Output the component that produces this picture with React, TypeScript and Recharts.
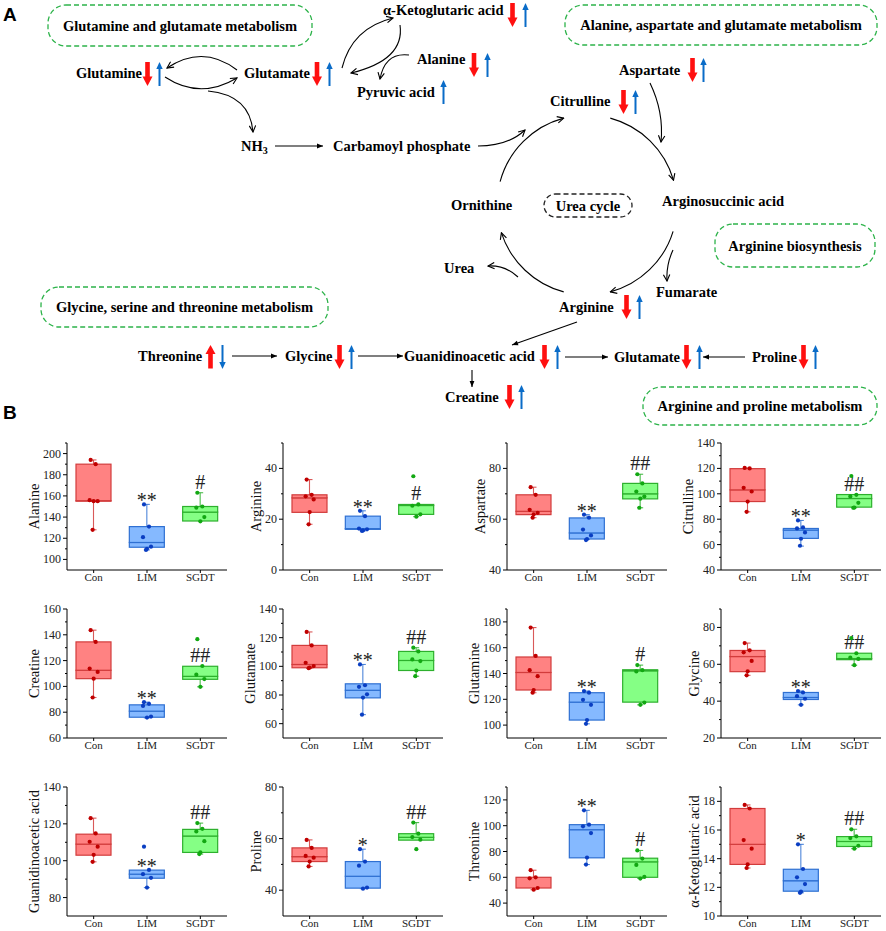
import React from "react";
import { ComposedChart, Bar, Scatter, XAxis, YAxis } from "recharts";

const SERIF = "'Liberation Serif', 'Times New Roman', serif";
const SANS = "'Liberation Sans', Arial, sans-serif";

const GROUPS = ["Con", "LIM", "SGDT"];
const FILL = ["#FF8282", "#85B9FF", "#85FF85"];
const EDGE = ["#D23C3C", "#2F70D2", "#2DB02D"];
const DOT = ["#C00000", "#0A3EC2", "#12A812"];

// box stats per group: [whisker low, Q1, median, Q3, whisker high]
const alanineBox = [[128, 155, 155.5, 190, 194], [109, 111.5, 116, 131, 152], [136, 136.3, 144.7, 150, 163]];
const alaninePts = [[194, 190, 156, 155, 155, 128], [152, 131, 121, 112, 110, 109], [163, 150, 149, 140, 136]];
const alanineSig = ["", "**", "#"];

const arginineBox = [[18, 22.7, 28.4, 29.6, 35.6], [15.4, 16, 16.3, 21.2, 23.3], [21, 21.9, 25.4, 25.8, 25.8]];
const argininePts = [[35.6, 29.6, 29, 27.8, 22.8, 18], [23.3, 21.2, 16.3, 16, 15.6, 15.4], [36.9, 25.8, 25.3, 21.9, 21]];
const arginineSig = ["", "**", "#"];

const aspartateBox = [[60.6, 61.8, 63.1, 69.6, 72.6], [52, 52.2, 54.6, 60.5, 61.8], [64.5, 68, 70, 74.1, 77.7]];
const aspartatePts = [[72.6, 69.6, 63.7, 62.5, 61.9, 60.6], [61.8, 60.6, 55.9, 53.6, 52.2, 51.8], [77.7, 74.1, 70.9, 68.9, 68.1, 64.5]];
const aspartateSig = ["", "**", "##"];

const citrullineBox = [[85.8, 93.9, 103.1, 119.8, 120.4], [58.8, 64.9, 71.4, 72.7, 79], [89, 89.5, 96.3, 99.4, 99.4]];
const citrullinePts = [[120.4, 120, 104.7, 101.8, 93.9, 85.8], [79, 73.5, 72.7, 69.6, 64.6, 59.1], [114, 99.2, 97.9, 92.9, 89.2, 89]];
const citrullineSig = ["", "**", "##"];

const creatineBox = [[91.4, 106, 112.5, 134.5, 143.6], [75.6, 76.1, 80.8, 85.7, 87.8], [99.7, 105.5, 107.8, 115.6, 115.6]];
const creatinePts = [[143.6, 134.5, 113.8, 111.2, 106, 91.4], [87.8, 86.5, 84.9, 76.6, 75.8], [136.6, 115.8, 109.1, 105.7, 99.7]];
const creatineSig = ["", "**", "##"];

const glutamateBox = [[98.5, 99, 101.3, 114.6, 124], [66.3, 78, 83.3, 87.8, 101.3], [93.1, 97.1, 104.1, 110.4, 113]];
const glutamatePts = [[124, 114.6, 102.5, 100.2, 99.2, 98.7], [101.3, 86.8, 85.7, 80.5, 78.2, 66.3], [113, 110.4, 104.8, 103.7, 97.1, 93.1]];
const glutamateSig = ["", "**", "##"];

const glutamineBox = [[125.1, 127.2, 140.8, 152.8, 175.6], [101, 103.9, 117.8, 125.1, 126.4], [115.7, 117.8, 142.1, 142.9, 146.5]];
const glutaminePts = [[175.6, 153.6, 142.6, 137.9, 127.2, 125.1], [126.4, 125.1, 119.6, 115.7, 103.9, 101], [146.5, 142.6, 141.6, 117.5, 115.7]];
const glutamineSig = ["", "**", "#"];

const glycineBox = [[54, 56, 64.2, 67.5, 71.5], [38, 40.9, 42, 44.7, 45.5], [59.5, 62.5, 63.1, 66, 66]];
const glycinePts = [[71.5, 67.6, 66.5, 61.8, 56.2, 54], [45.5, 44.7, 42.7, 41.3, 38], [74.2, 66, 63.6, 62.9, 59.5]];
const glycineSig = ["", "**", "##"];

const guanidinoBox = [[99.4, 103, 109, 114.4, 123.1], [85.4, 90.5, 92.7, 94.9, 94.9], [103.6, 104.5, 113.4, 117, 120.4]];
const guanidinoPts = [[123.1, 114.8, 110.3, 107.6, 103.2, 99.4], [107.6, 95, 92.7, 90.7, 85.4], [120.4, 117.3, 115.9, 110.6, 104.5, 103.6]];
const guanidinoSig = ["", "**", "##"];

const prolineBox = [[49.2, 51.1, 53, 56.4, 59.5], [40.6, 40.8, 45.4, 51.1, 55.9], [59.4, 59.4, 60.5, 61.9, 66.2]];
const prolinePts = [[59.5, 56.4, 53.3, 52.6, 51.1, 49.2], [55.9, 51.1, 49.5, 41, 40.6], [66.2, 61.9, 60.6, 59.6, 55.9]];
const prolineSig = ["", "*", "##"];

const threonineBox = [[50.4, 51.7, 60, 60, 65.5], [69.9, 75.1, 96.9, 100.8, 111.9], [59.2, 60, 72, 74.8, 80.8]];
const threoninePts = [[65.5, 60, 59.2, 51.7, 50.4], [111.9, 100.8, 99.5, 94.3, 75.3, 69.9], [80.8, 74.5, 69.6, 60.3, 59]];
const threonineSig = ["", "**", "#"];

const ketoBox = [[13.35, 13.6, 15, 17.5, 17.75], [11.62, 11.73, 12.46, 13.26, 15], [14.7, 14.85, 15.2, 15.54, 16.05]];
const ketoPts = [[17.75, 17.5, 15.3, 14.7, 13.6, 13.35], [15, 13.28, 12.7, 12.23, 11.7, 11.62], [16.05, 15.56, 15.44, 14.9, 14.7]];
const ketoSig = ["", "*", "##"];

const PANELS = [
  { name: "Alanine", box: alanineBox, pts: alaninePts, sig: alanineSig, domain: [90, 210], majors: [100, 120, 140, 160, 180, 200] },
  { name: "Arginine", box: arginineBox, pts: argininePts, sig: arginineSig, domain: [0, 50], majors: [0, 20, 40] },
  { name: "Aspartate", box: aspartateBox, pts: aspartatePts, sig: aspartateSig, domain: [40, 90], majors: [40, 60, 80] },
  { name: "Citrulline", box: citrullineBox, pts: citrullinePts, sig: citrullineSig, domain: [40, 140], majors: [40, 60, 80, 100, 120, 140] },
  { name: "Creatine", box: creatineBox, pts: creatinePts, sig: creatineSig, domain: [60, 160], majors: [60, 80, 100, 120, 140, 160] },
  { name: "Glutamate", box: glutamateBox, pts: glutamatePts, sig: glutamateSig, domain: [50, 140], majors: [60, 80, 100, 120, 140] },
  { name: "Glutamine", box: glutamineBox, pts: glutaminePts, sig: glutamineSig, domain: [90, 190], majors: [100, 120, 140, 160, 180] },
  { name: "Glycine", box: glycineBox, pts: glycinePts, sig: glycineSig, domain: [20, 90], majors: [20, 40, 60, 80] },
  { name: "Guanidinoacetic acid", box: guanidinoBox, pts: guanidinoPts, sig: guanidinoSig, domain: [70, 140], majors: [80, 100, 120, 140] },
  { name: "Proline", box: prolineBox, pts: prolinePts, sig: prolineSig, domain: [30, 80], majors: [40, 60, 80] },
  { name: "Threonine", box: threonineBox, pts: threoninePts, sig: threonineSig, domain: [30, 130], majors: [40, 60, 80, 100, 120] },
  { name: "α-Ketoglutaric acid", box: ketoBox, pts: ketoPts, sig: ketoSig, domain: [10, 19], majors: [10, 12, 14, 16, 18] },
];

const COL_X = [67, 283, 507, 721];
const ROW_TOP = [443, 609, 787];
const ROW_H = [127, 129, 129];
const PLOT_W = 160;
const AXIS_W = 60;
const TOP_PAD = 10;
const JIT = [-3, 2, -4, 4, 0, -1];

function minorTicks(domain: number[], majors: number[]) {
  const s = majors[1] - majors[0];
  const out: number[] = [];
  const first = majors[0] - s / 2;
  if (first > domain[0]) out.push(first);
  majors.forEach((m) => {
    if (m + s / 2 <= domain[1] + 1e-9) out.push(m + s / 2);
  });
  return out;
}

function YTick(props: any) {
  const { x, y, payload, majors } = props;
  const major = majors.includes(payload.value);
  return (
    <g>
      <line x1={major ? x + 2 : x + 4} x2={x + 6} y1={y} y2={y} stroke="#000" strokeWidth={1} />
      {major && (
        <text x={x} y={y} textAnchor="end" dominantBaseline="central" fontSize={12} fill="#222" fontFamily={SERIF}>
          {payload.value}
        </text>
      )}
    </g>
  );
}

const Nothing = () => <g />;

function WhiskerLow(p: any) {
  const cx = p.x + p.width / 2;
  const c = EDGE[p.payload.gi];
  if (!(p.height > 0.5)) return <g />;
  return (
    <g stroke={c} strokeOpacity={0.85} strokeWidth={1.1}>
      <line x1={cx} x2={cx} y1={p.y} y2={p.y + p.height} />
      <line x1={cx - 3} x2={cx + 3} y1={p.y + p.height} y2={p.y + p.height} />
    </g>
  );
}

function WhiskerHigh(p: any) {
  const cx = p.x + p.width / 2;
  const c = EDGE[p.payload.gi];
  const sig = p.payload.sig;
  const star = sig.startsWith("*");
  return (
    <g>
      {p.height > 0.5 && (
        <g stroke={c} strokeOpacity={0.85} strokeWidth={1.1}>
          <line x1={cx} x2={cx} y1={p.y} y2={p.y + p.height} />
          <line x1={cx - 3} x2={cx + 3} y1={p.y} y2={p.y} />
        </g>
      )}
      {sig && (
        <text x={cx} y={star ? p.y + 3 : p.y - 4} textAnchor="middle" fontSize={20} fill="#222" fontFamily={SERIF}>
          {sig}
        </text>
      )}
    </g>
  );
}

function BoxPart(p: any) {
  const i = p.payload.gi;
  return <rect x={p.x} y={p.y} width={p.width} height={Math.max(p.height, 0)} fill={FILL[i]} stroke={EDGE[i]} strokeWidth={1.2} />;
}

function Dot(p: any) {
  const i = p.payload.gi;
  return <circle cx={p.cx + JIT[p.payload.k % JIT.length]} cy={p.cy} r={2.1} fill={DOT[i]} />;
}

function BoxPanel({ panel, left, top, height }: any) {
  const rows = GROUPS.map((g, i) => {
    const [lo, q1, md, q3, hi] = panel.box[i];
    return { g, gi: i, sig: panel.sig[i], base: lo, wLow: q1 - lo, bLow: md - q1, bHigh: q3 - md, wHigh: hi - q3 };
  });
  const pts: any[] = [];
  GROUPS.forEach((g, i) => panel.pts[i].forEach((v: number, k: number) => pts.push({ g, gi: i, k, v })));
  const minors = minorTicks(panel.domain, panel.majors);
  const ticks = [...panel.majors, ...minors].sort((a, b) => a - b);
  const digits = Math.max(...panel.majors.map((m: number) => String(m).length));
  const d = digits >= 3 ? 33 : 27;
  return (
    <div style={{ position: "absolute", left: left - AXIS_W, top: top - TOP_PAD }}>
      <ComposedChart
        width={AXIS_W + PLOT_W + 5}
        height={height + TOP_PAD + 25}
        data={rows}
        margin={{ top: TOP_PAD, right: 5, bottom: 0, left: 0 }}
        barSize={35}
        style={{ fontFamily: SERIF }}
      >
        <XAxis
          dataKey="g"
          type="category"
          allowDuplicatedCategory={false}
          height={25}
          tickSize={3}
          tickMargin={0}
          stroke="#000"
          tick={{ fontSize: 11, fill: "#222", fontFamily: SERIF }}
          interval={0}
        />
        <YAxis
          type="number"
          width={AXIS_W}
          domain={panel.domain}
          allowDataOverflow
          ticks={ticks}
          interval={0}
          tickSize={4}
          tickMargin={2}
          tickLine={false}
          stroke="#000"
          tick={<YTick majors={panel.majors} />}
          label={{ value: panel.name, angle: -90, position: "center", dx: AXIS_W / 2 - d, fontSize: 14.5, fill: "#111", fontFamily: SERIF }}
        />
        <Bar dataKey="base" stackId="s" shape={<Nothing />} isAnimationActive={false} />
        <Bar dataKey="wLow" stackId="s" shape={<WhiskerLow />} isAnimationActive={false} />
        <Bar dataKey="bLow" stackId="s" shape={<BoxPart />} isAnimationActive={false} />
        <Bar dataKey="bHigh" stackId="s" shape={<BoxPart />} isAnimationActive={false} />
        <Bar dataKey="wHigh" stackId="s" shape={<WhiskerHigh />} isAnimationActive={false} />
        <Scatter data={pts} dataKey="v" shape={<Dot />} isAnimationActive={false} />
      </ComposedChart>
    </div>
  );
}

const GREEN = "#2DB34A";
const RED = "#FF1010";
const BLUE = "#0A6CC8";

function Red({ cx, top, up }: any) {
  if (up)
    return (
      <g fill={RED}>
        <polygon points={`${cx},${top} ${cx - 5},${top + 9} ${cx + 5},${top + 9}`} />
        <rect x={cx - 2.3} y={top + 8.5} width={4.6} height={15} />
      </g>
    );
  return (
    <g fill={RED}>
      <rect x={cx - 2.3} y={top} width={4.6} height={15} />
      <polygon points={`${cx - 5},${top + 14.5} ${cx + 5},${top + 14.5} ${cx},${top + 24}`} />
    </g>
  );
}

function Blue({ cx, top, down }: any) {
  if (down)
    return (
      <g fill={BLUE}>
        <rect x={cx - 1} y={top} width={2} height={18} />
        <polygon points={`${cx - 3.2},${top + 17} ${cx + 3.2},${top + 17} ${cx},${top + 24}`} />
      </g>
    );
  return (
    <g fill={BLUE}>
      <polygon points={`${cx},${top} ${cx - 3.2},${top + 7} ${cx + 3.2},${top + 7}`} />
      <rect x={cx - 1} y={top + 6} width={2} height={18} />
    </g>
  );
}

function T({ x, y, children, anchor = "start" }: any) {
  return (
    <text x={x} y={y} fontSize={14.5} fontWeight="bold" fontFamily={SERIF} dominantBaseline="central" textAnchor={anchor} fill="#000">
      {children}
    </text>
  );
}

function Pill({ x, y, w, h, text, color = GREEN }: any) {
  return (
    <g>
      <rect x={x} y={y} width={w} height={h} rx={Math.min(18, h / 2)} fill="none" stroke={color} strokeWidth={1.3} strokeDasharray="5 3" />
      <T x={x + w / 2} y={y + h / 2} anchor="middle">{text}</T>
    </g>
  );
}

function Diagram() {
  const C = [587, 205];
  const R = 90;
  const pt = (a: number) => {
    const r = (a * Math.PI) / 180;
    return `${(C[0] + R * Math.cos(r)).toFixed(1)} ${(C[1] + R * Math.sin(r)).toFixed(1)}`;
  };
  const arc = (a0: number, a1: number) => `M${pt(a0)} A${R} ${R} 0 0 1 ${pt(a1)}`;
  const line = { fill: "none", stroke: "#000", strokeWidth: 1.1 };
  return (
    <svg width={886} height={430} style={{ position: "absolute", left: 0, top: 0 }}>
      <defs>
        <marker id="open" viewBox="0 0 10 10" refX="9" refY="5" markerWidth="8" markerHeight="8" orient="auto" markerUnits="userSpaceOnUse">
          <path d="M1,1 L9,5 L1,9" fill="none" stroke="#000" strokeWidth="1.4" />
        </marker>
        <marker id="solid" viewBox="0 0 10 10" refX="10" refY="5" markerWidth="7" markerHeight="6" orient="auto" markerUnits="userSpaceOnUse">
          <path d="M0,1 L10,5 L0,9 z" fill="#000" />
        </marker>
      </defs>
      <text x={3} y={21} fontSize={19} fontWeight="bold" fontFamily={SANS}>A</text>
      <text x={3} y={419} fontSize={19} fontWeight="bold" fontFamily={SANS}>B</text>

      <Pill x={48} y={5} w={264} h={41} text="Glutamine and glutamate metabolism" />
      <Pill x={565} y={5} w={312} h={40} text="Alanine, aspartate and glutamate metabolism" />
      <Pill x={715} y={224} w={160} h={43} text="Arginine biosynthesis" />
      <Pill x={41} y={287} w={287} h={40} text="Glycine, serine and threonine metabolism" />
      <Pill x={643} y={387} w={234} h={38} text="Arginine and proline metabolism" />
      <Pill x={544} y={194} w={88} h={23} text="Urea cycle" color="#222" />

      <T x={76} y={73}>Glutamine</T>
      <Red cx={147.5} top={62} />
      <Blue cx={159.5} top={62} />
      <T x={244} y={73}>Glutamate</T>
      <Red cx={317} top={62} />
      <Blue cx={329.5} top={62} />
      <T x={383} y={10}>α-Ketoglutaric acid</T>
      <Red cx={512.5} top={3} />
      <Blue cx={525.5} top={3} />
      <T x={417} y={59}>Alanine</T>
      <Red cx={474} top={53} />
      <Blue cx={487.5} top={53} />
      <T x={357} y={92}>Pyruvic acid</T>
      <Blue cx={443.5} top={80} />
      <T x={619} y={70}>Aspartate</T>
      <Red cx={692.5} top={58} />
      <Blue cx={703.5} top={58} />
      <T x={550} y={101}>Citrulline</T>
      <Red cx={623.5} top={90} />
      <Blue cx={635.5} top={90} />
      <text x={241} y={146} fontSize={14.5} fontWeight="bold" fontFamily={SERIF} dominantBaseline="central">
        NH<tspan fontSize={10} dy={4}>3</tspan>
      </text>
      <T x={333} y={146}>Carbamoyl phosphate</T>
      <T x={451} y={205}>Ornithine</T>
      <T x={662} y={201}>Arginosuccinic acid</T>
      <T x={444} y={268}>Urea</T>
      <T x={656} y={292}>Fumarate</T>
      <T x={559} y={307}>Arginine</T>
      <Red cx={626.5} top={295} />
      <Blue cx={639.5} top={295} />
      <T x={138} y={356}>Threonine</T>
      <Red cx={210.5} top={345} up />
      <Blue cx={222.5} top={345} down />
      <T x={285} y={356}>Glycine</T>
      <Red cx={339.5} top={345} />
      <Blue cx={351.5} top={345} />
      <T x={404} y={356}>Guanidinoacetic acid</T>
      <Red cx={544.5} top={345} />
      <Blue cx={557.5} top={345} />
      <T x={614} y={357}>Glutamate</T>
      <Red cx={686.5} top={345} />
      <Blue cx={699.5} top={345} />
      <T x={752} y={357}>Proline</T>
      <Red cx={803.5} top={345} />
      <Blue cx={815.5} top={345} />
      <T x={445} y={397}>Creatine</T>
      <Red cx={509.5} top={385} />
      <Blue cx={521.5} top={385} />

      <path d="M237,70 Q203,44 167,68" {...line} markerEnd="url(#open)" />
      <path d="M165,77 Q200,100 237,78" {...line} markerEnd="url(#open)" />
      <path d="M208,91 Q250,95 253,132" {...line} markerEnd="url(#open)" />
      <path d="M275,146 L323,146" {...line} markerEnd="url(#solid)" />
      <path d="M342,68 Q352,28 393,18" {...line} markerEnd="url(#open)" />
      <path d="M400,25 Q405,60 351,73" {...line} markerEnd="url(#open)" />
      <path d="M409,55 Q385,52 380,79" {...line} markerEnd="url(#open)" />
      <path d="M478,146 Q508,146 525,130" {...line} markerEnd="url(#open)" />
      <path d="M650,83 Q664,112 661,142" {...line} markerEnd="url(#open)" />
      <path d={arc(-165, -105)} {...line} markerEnd="url(#open)" />
      <path d={arc(-75, -16)} {...line} markerEnd="url(#open)" />
      <path d={arc(17, 75)} {...line} markerEnd="url(#open)" />
      <path d={arc(105, 162)} {...line} markerEnd="url(#open)" />
      <path d="M518,277 Q505,265 488,266" {...line} markerEnd="url(#open)" />
      <path d="M673,250 Q666,265 667,281" {...line} markerEnd="url(#open)" />
      <path d="M577,322 L512,345" {...line} markerEnd="url(#solid)" />
      <path d="M232,356 L277,356" {...line} markerEnd="url(#solid)" />
      <path d="M358,356 L403,356" {...line} markerEnd="url(#solid)" />
      <path d="M565,357 L608,357" {...line} markerEnd="url(#solid)" />
      <path d="M745,357 L703,357" {...line} markerEnd="url(#solid)" />
      <path d="M472,370 L472,387" {...line} markerEnd="url(#solid)" />
    </svg>
  );
}

export default function App() {
  return (
    <div style={{ position: "absolute", left: 0, top: 0, width: 886, height: 931, background: "#fff", fontFamily: SERIF }}>
      <Diagram />
      {PANELS.map((p, i) => (
        <BoxPanel key={p.name} panel={p} left={COL_X[i % 4]} top={ROW_TOP[Math.floor(i / 4)]} height={ROW_H[Math.floor(i / 4)]} />
      ))}
    </div>
  );
}
